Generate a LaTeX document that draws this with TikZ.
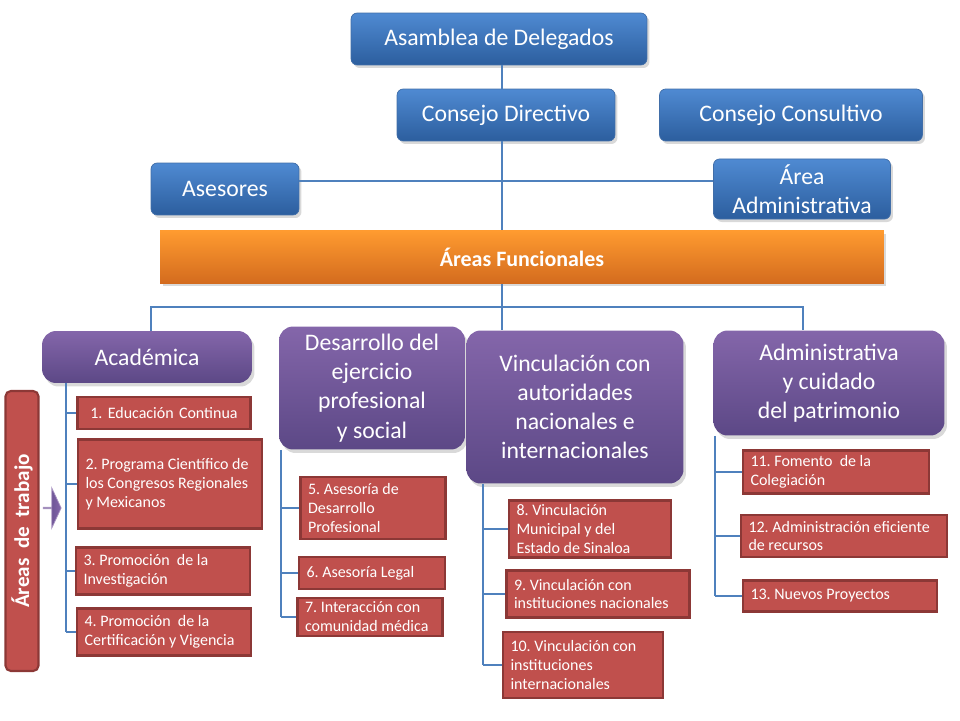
\documentclass[tikz,border=0pt]{standalone}
\usepackage{fontspec}
\setmainfont{Carlito}
\frenchspacing
\hyphenpenalty=10000
\usetikzlibrary{positioning, shadows, shapes.arrows}
\definecolor{orgblueT}{HTML}{4F8AD2}
\definecolor{orgblueB}{HTML}{2C5E9E}
\definecolor{purpT}{HTML}{8466AA}
\definecolor{purpB}{HTML}{5C4886}
\definecolor{rojo}{HTML}{C0504D}
\definecolor{rojoD}{HTML}{8C3836}
\definecolor{naranT}{HTML}{FF9B30}
\definecolor{naranB}{HTML}{D36B1E}
\definecolor{linea}{HTML}{4F81BD}
\tikzset{
  jefe/.style={rectangle, rounded corners=3.5pt, top color=orgblueT, bottom color=orgblueB,
    draw=orgblueB!90, line width=0.4pt, text=white, font=\fontsize{13.5}{16.2}\selectfont,
    align=center, drop shadow={opacity=0.3, shadow xshift=0.05cm, shadow yshift=-0.06cm}},
  franja/.style={rectangle, top color=naranT, bottom color=naranB, text=white,
    font=\fontsize{12.5}{15}\selectfont\bfseries, minimum width=14.48cm, minimum height=1.06cm,
    drop shadow={opacity=0.3, shadow xshift=0.05cm, shadow yshift=-0.06cm}},
  area/.style={rectangle, rounded corners=8pt, top color=purpT, bottom color=purpB,
    text=white, font=\fontsize{13.5}{16.6}\selectfont, align=center,
    drop shadow={opacity=0.3, shadow xshift=0.05cm, shadow yshift=-0.07cm}},
  tarea/.style={rectangle, fill=rojo, draw=rojoD, line width=1.2pt, text=white,
    font=\fontsize{9.1}{10.8}\selectfont, align=flush left, inner xsep=0.15cm, inner ysep=0pt},
  trabajo/.style={rectangle, rounded corners=3pt, fill=rojo, draw=rojoD, line width=1.2pt,
    text=white, font=\fontsize{12}{14}\selectfont\bfseries, minimum width=5.6cm, minimum height=0.48cm},
  flecha/.style={single arrow, single arrow head extend=0.2cm, single arrow tip angle=130,
    minimum height=0.36cm, minimum width=0.8cm, inner sep=0pt, left color=purpB, right color=purpT,
    draw=purpT!70, line width=0.4pt},
  rama/.style={draw=linea, line width=1.6pt},
  hoja/.style={draw=linea, line width=0.8pt},
}

\begin{document}
\begin{tikzpicture}[x=0.02cm, y=-0.02cm]
    \useasboundingbox (0,0) rectangle (960,720);

    % mando
    \node[jefe, minimum width=5.92cm, minimum height=1.04cm] (asamblea) at (499,39) {Asamblea de Delegados};
    \node[jefe, minimum width=4.36cm, minimum height=1.04cm] (directivo) at (506,115) {Consejo Directivo};
    \node[jefe, minimum width=5.26cm, minimum height=1.04cm] (consultivo) at (791,115) {Consejo Consultivo};
    \node[jefe, minimum width=2.96cm, minimum height=1.04cm] (asesores) at (225,189) {Asesores};
    \node[jefe, minimum width=3.54cm, minimum height=1.04cm] (areaadm) at (802,189) {Área\\Administrativa};
    \node[franja] (funcionales) at (522,257) {Áreas Funcionales};

    \coordinate (eje) at (502,0);
    \draw[rama] (asamblea.south -| eje) -- (directivo.north -| eje);
    \draw[rama] (directivo.south -| eje) -- (funcionales.north -| eje);
    \draw[rama] ([yshift=0.16cm]asesores.east) -- ([yshift=0.16cm]areaadm.west);

    % areas funcionales
    \node[area, minimum width=4.2cm, minimum height=1.04cm] (academica) at (147,357) {Académica};
    \node[area, minimum width=3.72cm, minimum height=2.46cm] (desarrollo) at (372,388) {Desarrollo del\\ejercicio\\profesional\\y social};
    \node[area, minimum width=4.34cm, minimum height=3.06cm] (vincula) at (575,407) {Vinculación con\\autoridades\\nacionales e\\internacionales};
    \node[area, minimum width=4.62cm, minimum height=2.1cm] (admin) at (829,383) {Administrativa\\y cuidado\\del patrimonio};

    \coordinate (busA) at (151,307);
    \coordinate (busB) at (803,307);
    \draw[rama] (funcionales.south -| eje) -- (vincula.north -| eje);
    \draw[rama] (academica.north -| busA) -- (busA) -- (busB) -- (admin.north -| busB);

    % areas de trabajo
    \node[trabajo, rotate=90] (trabajo) at (22,531) {Áreas\ \ de\ \ trabajo};
    \node[flecha] (flecha) at (52,508) {};

    \node[tarea, align=center, text width=3.16cm, minimum height=0.64cm] (t1) at (164,413) {1. Educación Continua};
    \node[tarea, text width=3.38cm, minimum height=1.78cm] (t2) at (170,484) {2. Programa Científico de\\los Congresos Regionales\\y Mexicanos};
    \node[tarea, text width=3.18cm, minimum height=0.94cm] (t3) at (163,571) {3. Promoción\ \ de la\\Investigación};
    \node[tarea, text width=3.18cm, minimum height=0.94cm] (t4) at (164,632) {4. Promoción\ \ de la\\Certificación y Vigencia};

    \node[tarea, text width=2.6cm, minimum height=1.24cm] (t5) at (373,508) {5. Asesoría de\\Desarrollo\\Profesional};
    \node[tarea, text width=2.62cm, minimum height=0.64cm] (t6) at (372,573) {6. Asesoría Legal};
    \node[tarea, text width=2.6cm, minimum height=0.76cm] (t7) at (370,617) {7. Interacción con\\comunidad médica};

    \node[tarea, text width=2.94cm, minimum height=1.14cm] (t8) at (590,529) {8. Vinculación\\Municipal y del\\Estado de Sinaloa};
    \node[tarea, text width=3.36cm, minimum height=0.94cm] (t9) at (598,594) {9. Vinculación con\\instituciones nacionales};
    \node[tarea, text width=2.9cm, minimum height=1.32cm] (t10) at (583,665) {10. Vinculación con\\instituciones\\internacionales};

    \node[tarea, text width=3.42cm, minimum height=0.86cm] (t11) at (836,472) {11. Fomento\ \ de la\\Colegiación};
    \node[tarea, text width=3.82cm, minimum height=0.84cm] (t12) at (844,536) {12. Administración eficiente\\de recursos};
    \node[tarea, text width=3.58cm, minimum height=0.62cm] (t13) at (840,596) {13. Nuevos Proyectos};

    \coordinate (troncoA) at (66,0);
    \coordinate (troncoD) at (281,0);
    \coordinate (troncoV) at (483,0);
    \coordinate (troncoM) at (715,0);
    \draw[hoja] (academica.south -| troncoA) -- (t4.west -| troncoA);
    \draw[hoja] (desarrollo.south -| troncoD) -- (t7.west -| troncoD);
    \draw[hoja] (vincula.south -| troncoV) -- (t10.west -| troncoV);
    \draw[hoja] (admin.south -| troncoM) -- (t13.west -| troncoM);
    \foreach \t in {t1,t2,t3,t4} \draw[hoja] (\t.west -| troncoA) -- (\t.west);
    \foreach \t in {t5,t6,t7} \draw[hoja] (\t.west -| troncoD) -- (\t.west);
    \foreach \t in {t8,t9,t10} \draw[hoja] (\t.west -| troncoV) -- (\t.west);
    \foreach \t in {t11,t12,t13} \draw[hoja] (\t.west -| troncoM) -- (\t.west);
\end{tikzpicture}
\end{document}
